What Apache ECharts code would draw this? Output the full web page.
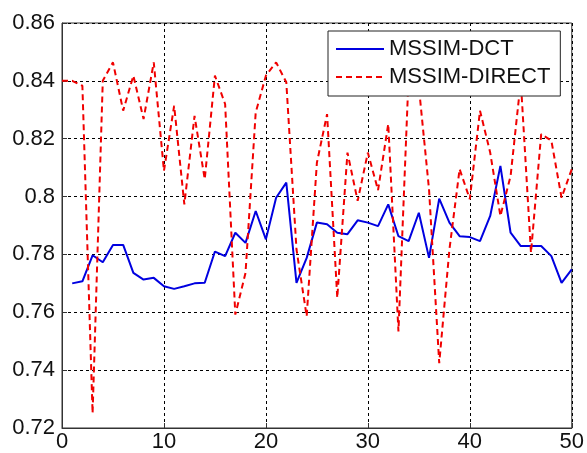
<!DOCTYPE html>
<html>
<head>
<meta charset="utf-8">
<script src="https://cdn.jsdelivr.net/npm/echarts@6/dist/echarts.min.js"></script>
<style>
  html, body { margin: 0; padding: 0; background: #fff; }
  #chart { width: 587px; height: 453px; }
</style>
</head>
<body>
<div id="chart"></div>
<script>
// x positions
const dctX = [1,2,3,4,5,6,7,8,9,10,11,12,13,14,15,16,17,18,19,20,21,22,23,24,25,
  26,27,28,29,30,31,32,33,34,35,36,37,38,39,40,41,42,43,44,45,46,47,48,49,50]
const directX = [0].concat(dctX)

// MSSIM-DCT (blue solid)
const dctValues = [0.770, 0.7707, 0.7797, 0.7773, 0.7833, 0.7833, 0.7736, 0.7713, 0.7719, 0.769,
  0.7681, 0.769, 0.770, 0.7702, 0.781, 0.7794, 0.7875, 0.784, 0.795, 0.7852,
  0.7996, 0.8048, 0.7702, 0.7788, 0.791, 0.7904, 0.7875, 0.787, 0.7918, 0.791,
  0.7898, 0.7973, 0.7863, 0.7846, 0.7944, 0.7788, 0.7993, 0.791, 0.7863, 0.786,
  0.7846, 0.7933, 0.8106, 0.7875, 0.7829, 0.7829, 0.7829, 0.7794, 0.7702, 0.7748]

// MSSIM-DIRECT (red dashed), starts at x = 0
const directValues = [0.840, 0.840, 0.8383, 0.7251, 0.840, 0.8464, 0.8297, 0.8418, 0.8268, 0.8464,
  0.8089, 0.8314, 0.7973, 0.8279, 0.806, 0.8418, 0.832, 0.7592, 0.7736, 0.8291,
  0.8418, 0.8464, 0.8395, 0.7817, 0.7586, 0.8117, 0.8285, 0.765, 0.8152, 0.7985,
  0.8152, 0.8022, 0.8251, 0.7534, 0.842, 0.838, 0.8025, 0.7424, 0.7817, 0.8095,
  0.7991, 0.8297, 0.8152, 0.7933, 0.8071, 0.840, 0.7806, 0.8216, 0.8193, 0.7996,
  0.8095]

const seriesNames = ['MSSIM-DCT', 'MSSIM-DIRECT']

const font = '"Liberation Sans", Arial, sans-serif'

let chart = echarts.init(document.getElementById('chart'))

let option = {
  animation: false,
  backgroundColor: '#fff',
  grid: {
    left: 62,
    right: 12,
    top: 23,
    bottom: 25,
    show: true,
    borderColor: '#333',
    borderWidth: 1
  },
  legend: {
    data: seriesNames,
    orient: 'vertical',
    left: 328,
    top: 31,
    padding: [7, 10, 8, 7],
    itemWidth: 48,
    itemHeight: 14,
    itemGap: 6,
    backgroundColor: '#fff',
    borderColor: '#222',
    borderWidth: 1,
    borderRadius: 0,
    z: 10,
    // hide the marker dot, keep only the line sample
    itemStyle: { opacity: 0 },
    textStyle: {
      fontFamily: font,
      fontSize: 22,
      color: '#111'
    }
  },
  xAxis: {
    type: 'value',
    min: 0,
    max: 50,
    interval: 10,
    axisLine: { show: true, onZero: false, lineStyle: { color: '#333' } },
    axisTick: { show: true, inside: true, length: 5, lineStyle: { color: '#333' } },
    axisLabel: { margin: 3, fontFamily: font, fontSize: 22, color: '#111' },
    splitLine: { show: true, lineStyle: { color: '#000', type: [3, 3], width: 1 } }
  },
  yAxis: {
    type: 'value',
    min: 0.72,
    max: 0.86,
    interval: 0.02,
    axisLine: { show: true, onZero: false, lineStyle: { color: '#333' } },
    axisTick: { show: true, inside: true, length: 5, lineStyle: { color: '#333' } },
    axisLabel: {
      margin: 7,
      fontFamily: font,
      fontSize: 22,
      color: '#111',
      formatter: function (v) {
        return parseFloat(v.toFixed(2)).toString()
      }
    },
    splitLine: { show: true, lineStyle: { color: '#000', type: [3, 3], width: 1 } }
  },
  series: [
    {
      name: seriesNames[0],
      type: 'line',
      symbol: 'none',
      data: dctX.map((x, i) => [x, dctValues[i]]),
      color: '#0000e0',
      lineStyle: { color: '#0000e0', width: 2 },
      z: 3
    },
    {
      name: seriesNames[1],
      type: 'line',
      symbol: 'none',
      data: directX.map((x, i) => [x, directValues[i]]),
      color: '#f00000',
      lineStyle: { color: '#f00000', width: 2, type: [6, 4] },
      z: 4
    }
  ]
}

chart.setOption(option)
</script>
</body>
</html>
